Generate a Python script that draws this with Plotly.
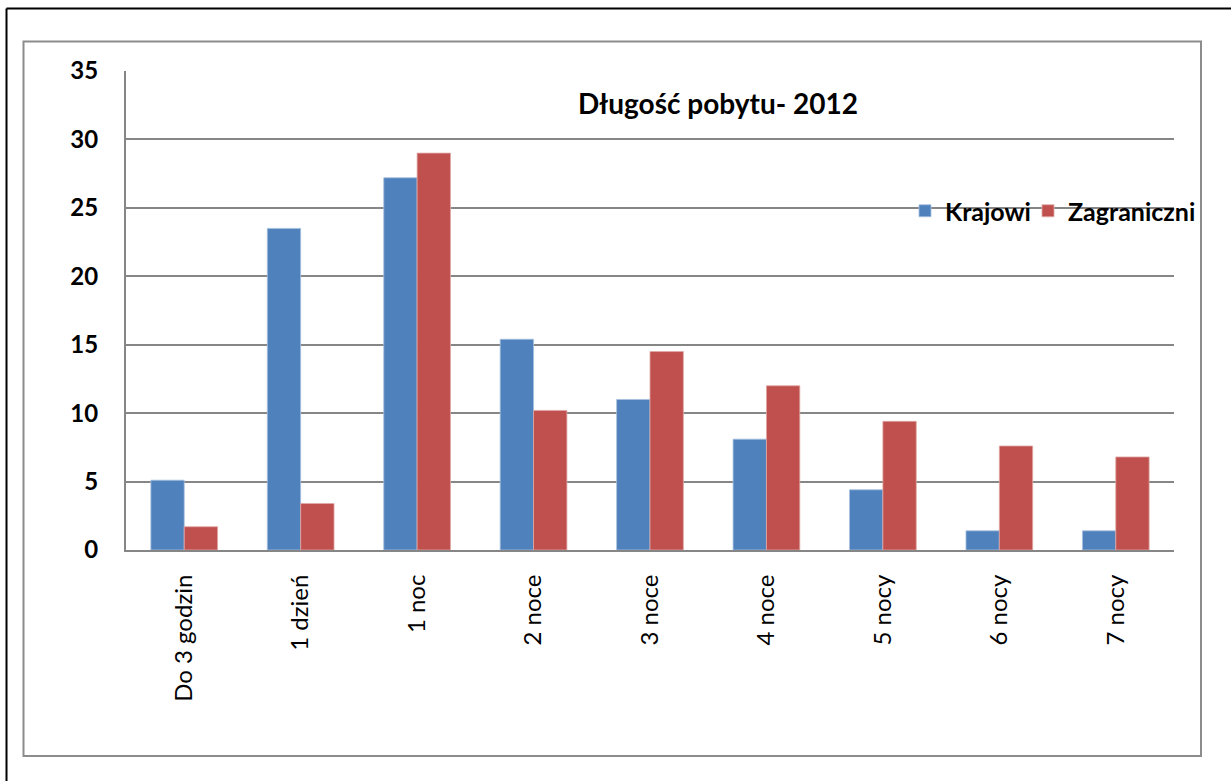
import plotly.graph_objects as go

categories = ["Do 3 godzin", "1 dzień", "1 noc", "2 noce", "3 noce", "4 noce", "5 nocy", "6 nocy", "7 nocy"]
krajowi = [5.1, 23.5, 27.2, 15.4, 11.0, 8.1, 4.4, 1.4, 1.4]
zagraniczni = [1.7, 3.4, 29.0, 10.2, 14.5, 12.0, 9.4, 7.6, 6.8]
y_ticks = [0, 5, 10, 15, 20, 25, 30, 35]
title_text = "Długość pobytu- 2012"

W, H = 1231, 783
L, R, T, B = 126, 1174, 71, 550
pw, ph = R - L, B - T

def px(x):
    return (x - L) / pw

def py(y):
    return (B - y) / ph

FONT = "Lato"
GRID = "#868686"

fig = go.Figure()
fig.add_trace(go.Bar(x=categories, y=krajowi, name="Krajowi", legend="legend",
                     marker=dict(color="#4F81BD", line=dict(color="#A7C0DE", width=0.8))))
fig.add_trace(go.Bar(x=categories, y=zagraniczni, name="Zagraniczni", legend="legend2",
                     marker=dict(color="#C0504D", line=dict(color="#E0A8A6", width=0.8))))

legend_font = dict(family=FONT, size=25, color="black", weight="bold")

fig.update_layout(
    width=W, height=H,
    margin=dict(l=L, r=W - R, t=T, b=H - B),
    paper_bgcolor="white", plot_bgcolor="white",
    barmode="group", bargap=0.427, bargroupgap=0,
    font=dict(family=FONT, color="black"),
    showlegend=True,
    legend=dict(orientation="h", x=px(905), y=py(211), xanchor="left", yanchor="middle",
                bgcolor="rgba(0,0,0,0)", font=legend_font, itemwidth=30),
    legend2=dict(orientation="h", x=px(1028), y=py(211), xanchor="left", yanchor="middle",
                 bgcolor="rgba(0,0,0,0)", font=legend_font, itemwidth=30),
    xaxis=dict(showgrid=False, showline=True, linecolor=GRID, linewidth=2,
               tickangle=-90, ticks="", tickfont=dict(family=FONT, size=24, color="black"),
               ticklabelstandoff=13),
    yaxis=dict(range=[0, 35], tickvals=y_ticks, showgrid=True, gridcolor=GRID, gridwidth=1.5,
               showline=True, linecolor=GRID, linewidth=2, zeroline=False, ticks="",
               tickfont=dict(family=FONT, size=24, color="black", weight="bold"),
               ticklabelstandoff=21),
)

fig.add_annotation(text="<b>" + title_text + "</b>", xref="paper", yref="paper",
                   x=px(718), y=py(103), xanchor="center", yanchor="middle",
                   showarrow=False, font=dict(family=FONT, size=28, color="black"))

# gray chart-area border
fig.add_shape(type="rect", xref="paper", yref="paper",
              x0=px(23.5), x1=px(1201), y0=py(756), y1=py(41.5),
              line=dict(color="#8C8C8C", width=2), layer="below")
# black outer frame (left and top)
fig.add_shape(type="line", xref="paper", yref="paper",
              x0=px(6.5), x1=px(6.5), y0=py(781), y1=py(8.5),
              line=dict(color="black", width=2))
fig.add_shape(type="line", xref="paper", yref="paper",
              x0=px(6.5), x1=px(1235), y0=py(8.5), y1=py(8.5),
              line=dict(color="black", width=2))

fig.write_html("out.html", config={"displayModeBar": False},
               post_script="document.body.style.margin='0';document.body.style.overflow='hidden';")
